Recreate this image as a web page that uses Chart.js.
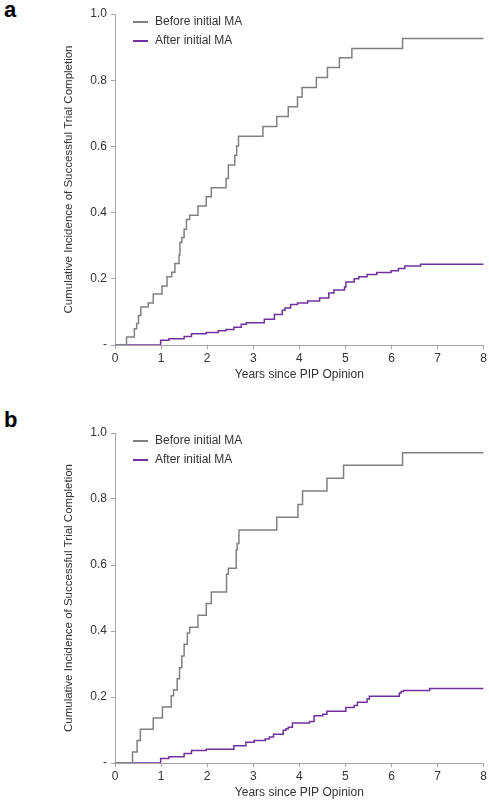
<!DOCTYPE html>
<html><head><meta charset="utf-8">
<script src="https://cdn.jsdelivr.net/npm/chart.js@4"></script>
<style>
body{margin:0;background:#fff;font-family:"Liberation Sans",Arial,sans-serif;}
.wrap{position:absolute;left:0;width:489px;}
.lbl{position:absolute;left:4px;font-weight:bold;font-size:22px;color:#000;}
.leg{position:absolute;font-size:12px;color:#333;}
.leg span{display:inline-block;width:15px;height:2px;vertical-align:middle;margin-right:7px;}
</style></head><body>
<div class="lbl" style="top:-3px">a</div>
<div class="lbl" style="top:407px">b</div>
<div class="wrap" style="top:0;height:382px"><canvas id="ca"></canvas></div>
<div class="wrap" style="top:410px;height:390px"><canvas id="cb"></canvas></div>
<div class="leg" style="left:133px;top:14px"><span style="background:#808080"></span>Before initial MA</div>
<div class="leg" style="left:133px;top:33px"><span style="background:#7030a0"></span>After initial MA</div>
<div class="leg" style="left:133px;top:433px"><span style="background:#808080"></span>Before initial MA</div>
<div class="leg" style="left:133px;top:452px"><span style="background:#7030a0"></span>After initial MA</div>
<script>
const seriesNames=["Before initial MA","After initial MA"];
const aBeforeT=[0.25,0.42,0.47,0.51,0.56,0.72,0.83,1.02,1.13,1.23,1.30,1.39,1.41,1.45,1.50,1.55,1.62,1.80,1.98,2.09,2.41,2.46,2.60,2.64,2.68,3.21,3.51,3.76,3.96,4.06,4.37,4.61,4.87,5.14,6.24];
const aBeforeY=[0.024,0.049,0.065,0.089,0.115,0.127,0.154,0.178,0.206,0.22,0.246,0.272,0.31,0.325,0.35,0.379,0.392,0.42,0.448,0.475,0.503,0.544,0.573,0.601,0.631,0.66,0.69,0.72,0.749,0.778,0.808,0.838,0.868,0.896,0.926];
const aAfterT=[0.99,1.17,1.50,1.66,1.98,2.24,2.41,2.58,2.74,2.85,3.24,3.46,3.63,3.69,3.81,3.96,4.18,4.44,4.64,4.75,4.98,5.01,5.19,5.29,5.47,5.68,5.99,6.15,6.29,6.63];
const aAfterY=[0.014,0.019,0.026,0.034,0.038,0.043,0.047,0.054,0.063,0.067,0.078,0.092,0.105,0.112,0.122,0.127,0.133,0.142,0.157,0.166,0.175,0.19,0.2,0.206,0.213,0.219,0.224,0.231,0.239,0.244];
const bBeforeT=[0.38,0.48,0.55,0.83,1.03,1.22,1.27,1.35,1.40,1.45,1.50,1.57,1.62,1.80,1.98,2.09,2.42,2.46,2.63,2.65,2.69,3.51,3.97,4.07,4.60,4.96,6.24];
const bBeforeY=[0.033,0.068,0.102,0.136,0.17,0.204,0.221,0.255,0.289,0.324,0.36,0.394,0.411,0.448,0.483,0.518,0.572,0.59,0.645,0.665,0.706,0.745,0.783,0.824,0.863,0.902,0.94];
const bAfterT=[0.99,1.17,1.50,1.66,1.98,2.58,2.84,3.02,3.26,3.35,3.44,3.65,3.71,3.76,3.85,4.22,4.32,4.51,4.60,5.01,5.19,5.26,5.47,5.52,6.17,6.21,6.26,6.83];
const bAfterY=[0.014,0.019,0.029,0.038,0.042,0.052,0.063,0.068,0.073,0.079,0.087,0.099,0.104,0.108,0.121,0.126,0.143,0.148,0.157,0.168,0.174,0.184,0.194,0.202,0.212,0.217,0.22,0.226];
const xTicks=[0,1,2,3,4,5,6,7,8];
const yTickLabels={0:"-",0.2:"0.2",0.4:"0.4",0.6:"0.6",0.8:"0.8",1:"1.0"};
const colors=["#808080","#7030a0"];

function pts(t,y){const p=[{x:0,y:0}];t.forEach((v,i)=>p.push({x:v,y:y[i]}));p.push({x:8,y:y[y.length-1]});return p;}
function make(id,bt,by,at,ay,top){
  const ax='#a6a6a6';
  const f={size:12,family:'Liberation Sans'};
  new Chart(document.getElementById(id),{type:'line',
    data:{datasets:[
      {label:seriesNames[0],data:pts(bt,by),borderColor:colors[0],borderWidth:1.5,pointRadius:0,stepped:true},
      {label:seriesNames[1],data:pts(at,ay),borderColor:colors[1],borderWidth:1.5,pointRadius:0,stepped:true}]},
    options:{responsive:true,maintainAspectRatio:false,animation:false,
      layout:{padding:{left:62,right:4,top:top,bottom:0}},
      plugins:{legend:{display:false},tooltip:{enabled:false}},
      scales:{
        x:{type:'linear',min:0,max:8,afterBuildTicks:s=>{s.ticks=xTicks.map(v=>({value:v}));},
          grid:{display:true,drawOnChartArea:false,color:ax,tickLength:4},border:{color:ax},
          ticks:{color:'#333',font:f,padding:2,maxRotation:0},
          title:{display:true,text:'Years since PIP Opinion',color:'#333',font:f,padding:{top:4,bottom:0}},
          afterFit:s=>{s.height=37;}},
        y:{min:0,max:1,ticks:{stepSize:0.2,color:'#333',font:f,padding:4,callback:v=>yTickLabels[Math.round(v*10)/10]},
          grid:{display:true,drawOnChartArea:false,color:ax,tickLength:4},border:{color:ax},
          title:{display:true,text:'Cumulative Incidence of Successful Trial Completion',color:'#333',font:{size:11.5,family:'Liberation Sans'},padding:0},
          afterFit:s=>{s.width=53;}}
      }}});
}
make('ca',aBeforeT,aBeforeY,aAfterT,aAfterY,14);
make('cb',bBeforeT,bBeforeY,bAfterT,bAfterY,23);
</script></body></html>
